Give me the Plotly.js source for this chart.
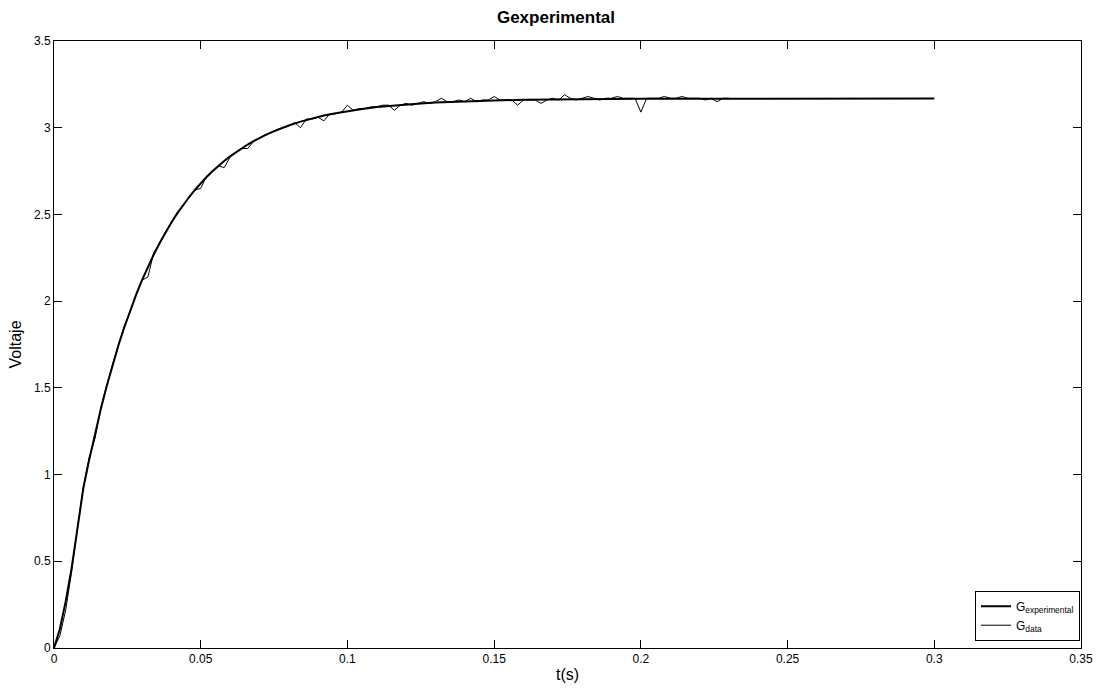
<!DOCTYPE html>
<html>
<head>
<meta charset="utf-8">
<script src="https://cdn.plot.ly/plotly-3.0.1.min.js"></script>
<style>html,body{margin:0;padding:0;background:#fff;}#chart{width:1112px;height:691px;}</style>
</head>
<body>
<div id="chart"></div>
<script>
// Model response (G experimental), time in ms
var modelTimeMs = [0,2,4,6,8,10,12,14,16,18,20,22,24,26,28,30,32,34,36,38,40,42,44,46,48,50,52,54,56,58,60,62,64,66,68,70,72,74,76,78,80,84,88,92,96,100,105,110,115,120,125,130,140,150,160,170,180,190,200,220,240,260,280,300];
var modelVolt = [0,0.11,0.27,0.46,0.69,0.921,1.086,1.239,1.381,1.512,1.634,1.747,1.851,1.948,2.038,2.121,2.198,2.269,2.335,2.396,2.453,2.506,2.554,2.599,2.641,2.680,2.716,2.749,2.780,2.808,2.835,2.859,2.882,2.903,2.922,2.941,2.957,2.973,2.987,3.000,3.013,3.035,3.054,3.070,3.084,3.096,3.108,3.119,3.127,3.134,3.140,3.145,3.152,3.157,3.161,3.163,3.165,3.166,3.167,3.167,3.168,3.168,3.168,3.168];

// Measured data (G data), time in ms
var dataTimeMs = [0,2,4,6,8,10,12,14,16,18,20,22,24,26,28,30,32,34,36,38,40,42,44,46,48,50,52,54,56,58,60,62,64,66,68,70,72,74,76,78,80,82,84,86,88,90,92,94,96,98,100,102,104,106,108,110,112,114,116,118,120,122,124,126,128,130,132,134,136,138,140,142,144,146,148,150,152,154,156,158,160,162,164,166,168,170,172,174,176,178,180,182,184,186,188,190,192,194,196,198,200,202,204,206,208,210,212,214,216,218,220,222,224,226,228,230];
var dataVolt = [0,0.07,0.22,0.44,0.69,0.93,1.10,1.21,1.39,1.52,1.64,1.75,1.86,1.94,2.04,2.12,2.14,2.28,2.33,2.40,2.45,2.51,2.55,2.60,2.64,2.65,2.72,2.75,2.78,2.77,2.83,2.86,2.88,2.88,2.92,2.94,2.96,2.97,2.99,3.00,3.01,3.03,3.00,3.05,3.05,3.06,3.04,3.08,3.08,3.09,3.13,3.10,3.11,3.11,3.12,3.12,3.13,3.13,3.10,3.13,3.14,3.13,3.14,3.15,3.14,3.15,3.17,3.15,3.15,3.16,3.15,3.17,3.15,3.16,3.16,3.18,3.16,3.16,3.16,3.13,3.16,3.16,3.16,3.14,3.16,3.17,3.16,3.19,3.17,3.16,3.17,3.18,3.17,3.16,3.17,3.17,3.18,3.17,3.17,3.17,3.09,3.17,3.17,3.17,3.18,3.17,3.17,3.18,3.17,3.17,3.17,3.16,3.17,3.15,3.17,3.17];

var xTicks = [0,0.05,0.1,0.15,0.2,0.25,0.3,0.35];
var xTickText = ["0","0.05","0.1","0.15","0.2","0.25","0.3","0.35"];
var yTicks = [0,0.5,1,1.5,2,2.5,3,3.5];
var yTickText = ["0","0.5","1","1.5","2","2.5","3","3.5"];

function toSec(a){ return a.map(function(v){ return v/1000; }); }

var FONT = "Liberation Sans, Arial, sans-serif";

var traces = [
  {x: toSec(modelTimeMs), y: modelVolt, type: 'scatter', mode: 'lines',
   name: 'G<sub>experimental</sub>', line: {color: '#000', width: 2}},
  {x: toSec(dataTimeMs), y: dataVolt, type: 'scatter', mode: 'lines',
   name: 'G<sub>data</sub>', line: {color: '#000', width: 1}}
];

var axisCommon = {
  showgrid: false, zeroline: false, showline: true, linecolor: '#000', linewidth: 1,
  mirror: 'ticks', ticks: 'inside', ticklen: 8, tickwidth: 1, tickcolor: '#000',
  tickfont: {family: FONT, size: 12, color: '#000'}
};

var layout = {
  width: 1112, height: 691,
  paper_bgcolor: '#fff', plot_bgcolor: '#fff',
  margin: {l: 54, r: 31, t: 41, b: 43},
  showlegend: true,
  title: {text: 'Gexperimental', font: {family: FONT, size: 17, color: '#000', weight: 'bold'},
          x: 0.5, xanchor: 'center', y: 0.975, yanchor: 'middle'},
  xaxis: Object.assign({}, axisCommon, {
    range: [0, 0.35], tickvals: xTicks, ticktext: xTickText,
    title: {text: 't(s)', font: {family: FONT, size: 16, color: '#000'}, standoff: 3}
  }),
  yaxis: Object.assign({}, axisCommon, {
    range: [0, 3.5], tickvals: yTicks, ticktext: yTickText,
    title: {text: 'Voltaje', font: {family: FONT, size: 16, color: '#000'}, standoff: 8}
  }),
  legend: {x: 0.999, y: 0.012, xanchor: 'right', yanchor: 'bottom',
           bgcolor: '#fff', bordercolor: '#000', borderwidth: 1,
           font: {family: FONT, size: 12, color: '#000'}, tracegroupgap: 2}
};

Plotly.newPlot('chart', traces, layout, {displayModeBar: false, staticPlot: true});
</script>
</body>
</html>
